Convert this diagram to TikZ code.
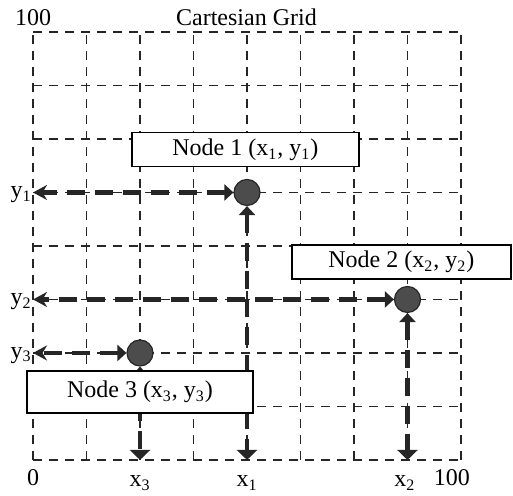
\documentclass[tikz,border=0pt]{standalone}
\usepackage{fontspec}
\setmainfont{Liberation Serif}
\usetikzlibrary{arrows.meta}
\tikzset{
    grid_line/.style={line width=0.9pt, dash pattern=on 4.5pt off 3.5pt, draw=black!85},
    link_h/.style={{Triangle[length=4.5pt,width=8pt]}-{Stealth[length=7pt,width=7.5pt]}, line width=2.2pt, dash pattern=on 9pt off 5pt, draw=black!85},
    link_v/.style={{Triangle[length=4.5pt,width=8pt]}-{Triangle[length=5pt,width=10pt]}, line width=2.2pt, dash pattern=on 9pt off 5pt, draw=black!85},
    point_node/.style={circle, minimum size=13pt, inner sep=0pt, draw=black!85, line width=0.6pt, fill=black!70},
    label_box/.style={rectangle, draw=black, line width=0.8pt, fill=white, minimum height=17pt, inner sep=0pt},
    axis_text/.style={inner sep=0pt}
}

\begin{document}
\begin{tikzpicture}[x=26.75pt, y=26.75pt, font=\fontsize{12}{14}\selectfont]
\useasboundingbox (-0.617,-0.673) rectangle (8.972,8.598);

\foreach \k in {0,...,8} {
    \draw[grid_line] (\k,0) -- (\k,8);
    \draw[grid_line] (0,\k) -- (8,\k);
}

\coordinate (y1end) at (0,5);
\coordinate (y2end) at (0,3);
\coordinate (y3end) at (0,2);
\coordinate (x1end) at (4,0);
\coordinate (x2end) at (7,0);
\coordinate (x3end) at (2,0);

\node[point_node] (n1) at (4,5) {};
\node[point_node] (n2) at (7,3) {};
\node[point_node] (n3) at (2,2) {};

\foreach \i in {1,2,3} {
    \draw[link_h] (n\i.west) -- (y\i end);
    \draw[link_v] (n\i.south) -- (x\i end);
}

\node[label_box, minimum width=113.5pt] (box1) at (3.97,5.8)
    {Node 1 (x\textsubscript{1}, y\textsubscript{1})};
\node[label_box, minimum width=109.5pt] (box2) at (6.885,3.70)
    {Node 2 (x\textsubscript{2}, y\textsubscript{2})};
\node[label_box, minimum width=113pt, minimum height=21pt] (box3) at (2.0,1.27)
    {Node 3 (x\textsubscript{3}, y\textsubscript{3})};

\node[axis_text, anchor=base] (top100) at (0,8.13) {100};
\node[axis_text, anchor=base] (title) at (3.99,8.13) {Cartesian Grid};

\node[axis_text, anchor=base east] (ly1) at (-0.02,4.9) {y\textsubscript{1}};
\node[axis_text, anchor=base east] (ly2) at (-0.02,2.9) {y\textsubscript{2}};
\node[axis_text, anchor=base east] (ly3) at (-0.02,1.9) {y\textsubscript{3}};

\node[axis_text, anchor=base] (lzero) at (0,-0.47) {0};
\node[axis_text, anchor=base] (lx3) at (2,-0.5) {x\textsubscript{3}};
\node[axis_text, anchor=base] (lx1) at (4,-0.5) {x\textsubscript{1}};
\node[axis_text, anchor=base] (lx2) at (6.95,-0.5) {x\textsubscript{2}};
\node[axis_text, anchor=base] (bot100) at (7.83,-0.47) {100};

\end{tikzpicture}
\end{document}
